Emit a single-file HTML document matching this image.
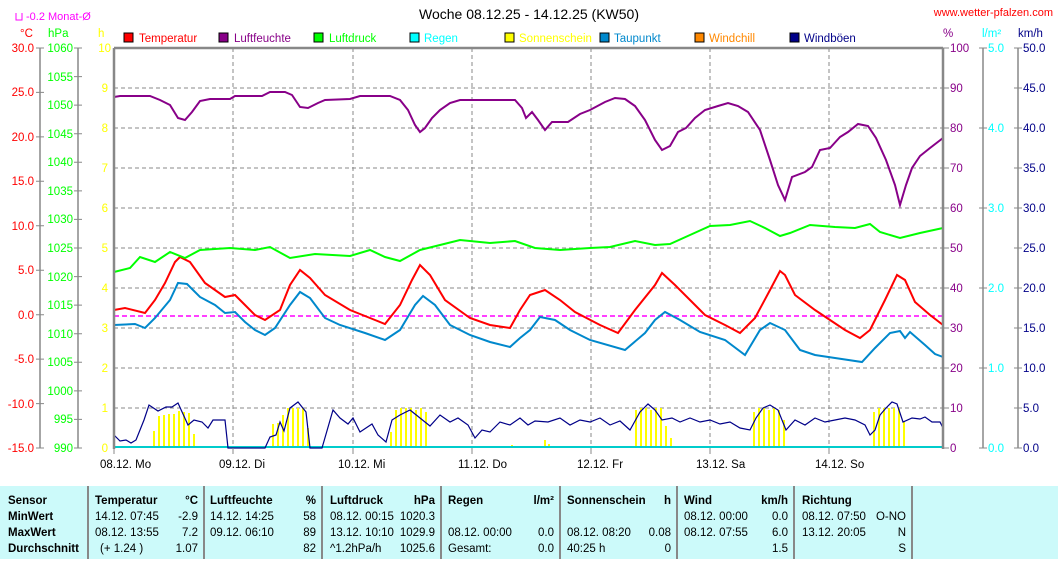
<!DOCTYPE html>
<html><head><meta charset="utf-8"><style>
body{margin:0;background:#fff;width:1058px;height:559px;overflow:hidden;font-family:"Liberation Sans",sans-serif}
svg text{font-family:"Liberation Sans",sans-serif;font-size:11.5px}
</style></head><body>
<svg width="1058" height="559" xmlns="http://www.w3.org/2000/svg">
<rect width="1058" height="559" fill="#fff"/>
<text x="529" y="19" text-anchor="middle" style="font-size:14px" fill="#000">Woche 08.12.25 - 14.12.25 (KW50)</text>
<text x="1053" y="16" text-anchor="end" fill="#f00" style="font-size:11px">www.wetter-pfalzen.com</text>
<path d="M16 13v7h6v-7" stroke="#f0f" fill="none"/>
<text x="26" y="20" fill="#f0f" style="font-size:11px">-0.2 Monat-Ø</text>
<text x="20" y="37" fill="#f00">°C</text><text x="48" y="37" fill="#0f0">hPa</text><text x="98" y="37" fill="#ff0">h</text>
<text x="943" y="37" fill="#808">%</text><text x="982" y="37" fill="#0ff">l/m²</text><text x="1018" y="37" fill="#008">km/h</text>
<g stroke="#000" stroke-width="1">
<rect x="124" y="33" width="9" height="9" fill="#f00"/><rect x="219" y="33" width="9" height="9" fill="#808"/><rect x="314" y="33" width="9" height="9" fill="#0f0"/><rect x="410" y="33" width="9" height="9" fill="#0ff"/><rect x="505" y="33" width="9" height="9" fill="#ff0"/><rect x="600" y="33" width="9" height="9" fill="#08c"/><rect x="695" y="33" width="9" height="9" fill="#f80"/><rect x="790" y="33" width="9" height="9" fill="#008"/></g>
<text x="139" y="42" fill="#f00">Temperatur</text><text x="234" y="42" fill="#808">Luftfeuchte</text><text x="329" y="42" fill="#0f0">Luftdruck</text><text x="424" y="42" fill="#0ff">Regen</text><text x="519" y="42" fill="#ff0">Sonnenschein</text><text x="614" y="42" fill="#08c">Taupunkt</text><text x="709" y="42" fill="#f80">Windchill</text><text x="804" y="42" fill="#008">Windböen</text>
<g stroke="#888" stroke-width="1.5">
<line x1="40" y1="48" x2="40" y2="448"/><line x1="78" y1="48" x2="78" y2="448"/><line x1="983" y1="48" x2="983" y2="448"/><line x1="1018" y1="48" x2="1018" y2="448"/>
</g>
<g stroke="#888" stroke-width="1" fill="none">
<path d="M36 48h8M36 92.4h8M36 136.9h8M36 181.3h8M36 225.8h8M36 270.2h8M36 314.7h8M36 359.1h8M36 403.6h8M36 448h8"/>
<path d="M74 48h8M74 76.6h8M74 105.1h8M74 133.7h8M74 162.3h8M74 190.9h8M74 219.4h8M74 248h8M74 276.6h8M74 305.1h8M74 333.7h8M74 362.3h8M74 390.9h8M74 419.4h8M74 448h8"/>
<path d="M943 48h6M943 88h6M943 128h6M943 168h6M943 208h6M943 248h6M943 288h6M943 328h6M943 368h6M943 408h6M943 448h6"/>
<path d="M979 48h8M979 128h8M979 208h8M979 288h8M979 368h8M979 448h8"/>
<path d="M1014 48h8M1014 88h8M1014 128h8M1014 168h8M1014 208h8M1014 248h8M1014 288h8M1014 328h8M1014 368h8M1014 408h8M1014 448h8"/>
</g>
<g fill="#f00" text-anchor="end">
<text x="34" y="52">30.0</text><text x="34" y="96">25.0</text><text x="34" y="141">20.0</text><text x="34" y="185">15.0</text><text x="34" y="230">10.0</text><text x="34" y="274">5.0</text><text x="34" y="319">0.0</text><text x="34" y="363">-5.0</text><text x="34" y="408">-10.0</text><text x="34" y="452">-15.0</text></g>
<g fill="#0f0" text-anchor="end">
<text x="73" y="52">1060</text><text x="73" y="81">1055</text><text x="73" y="109">1050</text><text x="73" y="138">1045</text><text x="73" y="166">1040</text><text x="73" y="195">1035</text><text x="73" y="223">1030</text><text x="73" y="252">1025</text><text x="73" y="281">1020</text><text x="73" y="309">1015</text><text x="73" y="338">1010</text><text x="73" y="366">1005</text><text x="73" y="395">1000</text><text x="73" y="423">995</text><text x="73" y="452">990</text></g>
<g fill="#ff0" text-anchor="end">
<text x="111" y="52">10</text><text x="108" y="92">9</text><text x="108" y="132">8</text><text x="108" y="172">7</text><text x="108" y="212">6</text><text x="108" y="252">5</text><text x="108" y="292">4</text><text x="108" y="332">3</text><text x="108" y="372">2</text><text x="108" y="412">1</text><text x="108" y="452">0</text></g>
<g fill="#808">
<text x="950" y="52">100</text><text x="950" y="92">90</text><text x="950" y="132">80</text><text x="950" y="172">70</text><text x="950" y="212">60</text><text x="950" y="252">50</text><text x="950" y="292">40</text><text x="950" y="332">30</text><text x="950" y="372">20</text><text x="950" y="412">10</text><text x="950" y="452">0</text></g>
<g fill="#0ff">
<text x="988" y="52">5.0</text><text x="988" y="132">4.0</text><text x="988" y="212">3.0</text><text x="988" y="292">2.0</text><text x="988" y="372">1.0</text><text x="988" y="452">0.0</text></g>
<g fill="#008">
<text x="1023" y="52">50.0</text><text x="1023" y="92">45.0</text><text x="1023" y="132">40.0</text><text x="1023" y="172">35.0</text><text x="1023" y="212">30.0</text><text x="1023" y="252">25.0</text><text x="1023" y="292">20.0</text><text x="1023" y="332">15.0</text><text x="1023" y="372">10.0</text><text x="1023" y="412">5.0</text><text x="1023" y="452">0.0</text></g>
<g stroke="#888" stroke-dasharray="4,3" stroke-width="1">
<path d="M114 88H943M114 128H943M114 168H943M114 208H943M114 248H943M114 288H943M114 328H943M114 368H943M114 408H943"/>
<path d="M233 48V448M353 48V448M472 48V448M591 48V448M710 48V448M829 48V448"/>
</g>
<g stroke="#ff0" stroke-width="2">
<path d="M154 448v-17M159 448v-32M164 448v-33M169 448v-34M174 448v-34M179 448v-37M184 448v-36M189 448v-35M194 448v-14"/>
<path d="M273 448v-24M278 448v-25M283 448v-33M288 448v-40M293 448v-40M298 448v-40M303 448v-40M308 448v-20"/>
<path d="M391 448v-16M396 448v-38M401 448v-40M406 448v-40M411 448v-40M416 448v-38M421 448v-40M426 448v-36M512 448v-3M545 448v-8M549 448v-4"/>
<path d="M636 448v-38M641 448v-40M646 448v-40M651 448v-38M656 448v-40M661 448v-40M666 448v-22M671 448v-10"/>
<path d="M754 448v-36M759 448v-40M764 448v-40M769 448v-38M774 448v-40M779 448v-38M784 448v-28"/>
<path d="M874 448v-36M879 448v-40M884 448v-40M889 448v-40M894 448v-40M899 448v-40M904 448v-26"/>
</g>
<line x1="114" y1="447" x2="943" y2="447" stroke="#0cc" stroke-width="2"/>
<polyline fill="none" stroke="#008" stroke-width="1.2" points="114,435 120,441 126,440 131,443 136,440 144,420 149,405 158,411 166,407 172,407 178,403 188,425 194,420 202,422 208,428 213,420 225,420 228,448 265,448 270,437 276,435 280,422 284,431 290,408 298,402 306,412 310,448 322,448 333,410 340,418 348,424 353,418 360,432 372,424 378,435 386,442 392,420 400,415 410,410 420,418 430,426 440,415 450,422 458,418 468,425 475,438 482,430 490,432 500,422 510,425 520,418 528,425 535,421 548,422 560,418 570,425 580,420 590,422 600,418 610,425 620,421 630,430 640,412 648,404 655,410 662,420 672,418 680,422 690,418 700,422 710,420 720,424 730,422 740,428 750,430 756,418 763,408 770,405 778,410 786,430 795,420 805,425 815,418 825,422 835,420 845,418 855,420 865,425 870,435 875,430 880,415 886,408 892,402 897,404 903,422 912,418 920,419 925,417 932,422 940,422 943,428"/>
<line x1="114" y1="316" x2="943" y2="316" stroke="#f0f" stroke-width="1.5" stroke-dasharray="5,3"/>
<polyline fill="none" stroke="#08c" stroke-width="2" points="114,325 135,324 145,328 155,318 170,300 178,283 187,284 200,297 215,305 225,313 235,312 245,322 255,330 265,335 275,328 290,305 300,292 310,298 325,318 340,325 365,333 385,340 400,330 415,305 423,296 435,305 450,325 470,335 490,342 510,347 520,338 530,330 540,317 555,320 570,330 590,340 625,350 645,333 655,320 665,312 680,320 700,332 725,340 745,355 760,330 770,323 785,330 800,350 815,355 835,358 862,362 875,348 890,333 900,331 905,338 910,332 925,345 935,354 943,357"/>
<polyline fill="none" stroke="#f00" stroke-width="2" points="114,310 125,308 145,313 155,300 165,283 175,262 180,257 190,262 205,283 225,297 235,295 245,305 255,315 265,320 280,310 290,285 300,270 310,278 325,295 350,310 375,320 385,324 400,305 412,280 420,265 430,275 445,300 470,318 490,325 510,328 520,310 530,295 545,290 560,300 575,312 600,325 618,333 635,310 655,285 662,273 675,285 690,300 705,315 725,325 740,333 755,318 770,290 780,271 785,275 795,295 815,310 830,320 845,330 860,338 870,330 885,300 897,275 905,280 915,302 930,315 943,325"/>
<polyline fill="none" stroke="#0f0" stroke-width="2" points="114,272 130,268 140,257 155,262 170,252 185,258 200,250 230,248 255,250 270,247 290,258 315,254 350,256 370,250 385,257 400,261 420,250 440,245 460,240 490,243 515,241 535,248 560,250 590,248 610,247 635,241 655,245 670,244 690,235 710,226 730,225 750,221 765,228 780,236 790,233 810,225 835,227 855,228 870,224 880,232 900,238 920,233 943,228"/>
<polyline fill="none" stroke="#808" stroke-width="2" points="114,97 120,96 150,96 160,100 170,105 178,118 185,120 192,112 200,101 210,99 230,99 235,96 262,96 270,92 285,92 292,95 300,107 308,108 318,103 325,100 350,99 360,96 390,96 400,100 408,110 415,125 420,132 425,128 432,118 440,110 450,103 460,100 515,100 522,108 526,118 532,112 538,120 545,130 552,122 568,122 580,114 590,110 605,102 615,98 625,99 635,106 645,120 655,140 662,150 670,146 678,132 686,128 695,118 705,110 718,106 728,103 738,106 748,112 760,130 770,160 778,185 785,200 792,177 805,172 812,167 820,150 830,148 840,137 848,132 858,124 868,126 876,138 886,160 895,185 900,205 906,185 912,168 920,156 930,148 943,138"/>
<g stroke="#888" stroke-width="2.5" fill="none"><line x1="114" y1="48" x2="114" y2="449"/><line x1="943" y1="48" x2="943" y2="449"/><line x1="114" y1="48" x2="943" y2="48"/></g>
<g stroke="#888"><path d="M114 448v6M233 448v6M353 448v6M472 448v6M591 448v6M710 448v6M829 448v6"/></g>
<g fill="#000">
<text x="100" y="468">08.12.  Mo</text><text x="219" y="468">09.12.  Di</text><text x="338" y="468">10.12.  Mi</text><text x="458" y="468">11.12.  Do</text><text x="577" y="468">12.12.  Fr</text><text x="696" y="468">13.12.  Sa</text><text x="815" y="468">14.12.  So</text></g>
<rect x="0" y="486" width="1058" height="73" fill="#ccfafa"/>
<g stroke="#888" stroke-width="2"><path d="M88 486v73M204 486v73M322 486v73M441 486v73M560 486v73M677 486v73M794 486v73M912 486v73"/></g>
<g fill="#000" style="font-size:11px">
<g font-weight="bold"><text x="8" y="504">Sensor</text><text x="8" y="520">MinWert</text><text x="8" y="536">MaxWert</text><text x="8" y="552">Durchschnitt</text>
<text x="95" y="504">Temperatur</text><text x="198" y="504" text-anchor="end">°C</text><text x="210" y="504">Luftfeuchte</text><text x="316" y="504" text-anchor="end">%</text><text x="330" y="504">Luftdruck</text><text x="435" y="504" text-anchor="end">hPa</text><text x="448" y="504">Regen</text><text x="554" y="504" text-anchor="end">l/m²</text><text x="567" y="504">Sonnenschein</text><text x="671" y="504" text-anchor="end">h</text><text x="684" y="504">Wind</text><text x="788" y="504" text-anchor="end">km/h</text><text x="802" y="504">Richtung</text></g>
<text x="95" y="520">14.12.  07:45</text><text x="198" y="520" text-anchor="end">-2.9</text><text x="95" y="536">08.12.  13:55</text><text x="198" y="536" text-anchor="end">7.2</text><text x="100" y="552">(+ 1.24 )</text><text x="198" y="552" text-anchor="end">1.07</text>
<text x="210" y="520">14.12.  14:25</text><text x="316" y="520" text-anchor="end">58</text><text x="210" y="536">09.12.  06:10</text><text x="316" y="536" text-anchor="end">89</text><text x="316" y="552" text-anchor="end">82</text>
<text x="330" y="520">08.12.  00:15</text><text x="435" y="520" text-anchor="end">1020.3</text><text x="330" y="536">13.12.  10:10</text><text x="435" y="536" text-anchor="end">1029.9</text><text x="330" y="552">^1.2hPa/h</text><text x="435" y="552" text-anchor="end">1025.6</text>
<text x="448" y="536">08.12.  00:00</text><text x="554" y="536" text-anchor="end">0.0</text><text x="448" y="552">Gesamt:</text><text x="554" y="552" text-anchor="end">0.0</text>
<text x="567" y="536">08.12.  08:20</text><text x="671" y="536" text-anchor="end">0.08</text><text x="567" y="552">40:25 h</text><text x="671" y="552" text-anchor="end">0</text>
<text x="684" y="520">08.12.  00:00</text><text x="788" y="520" text-anchor="end">0.0</text><text x="684" y="536">08.12.  07:55</text><text x="788" y="536" text-anchor="end">6.0</text><text x="788" y="552" text-anchor="end">1.5</text>
<text x="802" y="520">08.12.  07:50</text><text x="906" y="520" text-anchor="end">O-NO</text><text x="802" y="536">13.12.  20:05</text><text x="906" y="536" text-anchor="end">N</text><text x="906" y="552" text-anchor="end">S</text>
</g>
</svg>
</body></html>
